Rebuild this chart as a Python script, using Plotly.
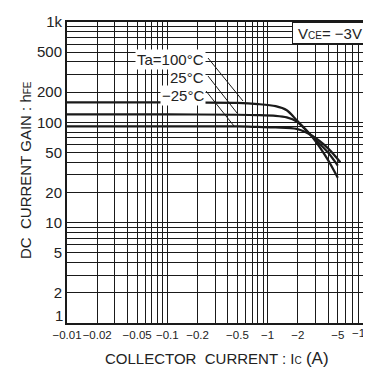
import plotly.graph_objects as go

# Collector current magnitude |Ic| (A) and DC current gain hFE (VCE = -3V)
ic_100 = [0.01, 0.1, 0.5, 0.8, 1.2, 1.55, 1.95, 2.8, 4.0, 5.0]
hfe_100 = [158, 158, 156, 152, 145, 132, 105, 71, 42, 28]

ic_25 = [0.01, 0.1, 0.5, 0.8, 1.2, 1.55, 1.95, 2.8, 4.0, 5.0]
hfe_25 = [120, 120, 119, 118, 116, 112, 102, 72, 50, 37]

ic_m25 = [0.01, 0.1, 0.5, 0.8, 1.2, 1.95, 2.8, 4.0, 5.3]
hfe_m25 = [91, 91, 91, 90, 89, 86, 73, 55, 40]

x_labels = {0.01: "−0.01", 0.02: "−0.02", 0.05: "−0.05", 0.1: "−0.1", 0.2: "−0.2",
            0.5: "−0.5", 1: "−1", 2: "−2", 5: "−5"}
x_end_label = "−10"
y_labels = {2: "2", 5: "5", 10: "10", 20: "20", 50: "50",
            100: "100", 200: "200", 500: "500", 1000: "1k"}
y_start_label = "1"

def log_grid(start_exp, n_dec):
    vals = []
    for e in range(start_exp, start_exp + n_dec):
        for m in range(1, 10):
            vals.append(round(m * 10 ** e, 6))
    vals.append(round(10 ** (start_exp + n_dec), 6))
    return vals

xt = log_grid(-2, 3)
yt = log_grid(0, 3)

def lab(d, v):
    for k, s in d.items():
        if abs(k - v) / k < 1e-6:
            return s
    return ""

fig = go.Figure()
for xs, ys in [(ic_100, hfe_100), (ic_25, hfe_25), (ic_m25, hfe_m25)]:
    fig.add_trace(go.Scatter(x=xs, y=ys, mode="lines",
                             line=dict(color="#1a1a1a", width=2.2, shape="spline", smoothing=0.8),
                             showlegend=False, hoverinfo="skip"))

FONT = "Liberation Sans, Arial, sans-serif"
fig.update_layout(
    width=371, height=361,
    margin=dict(l=59, r=11, t=14, b=46),
    paper_bgcolor="white", plot_bgcolor="white",
    font=dict(family=FONT, color="#222"),
    xaxis=dict(type="log", range=[-2, 1], tickvals=xt, ticktext=[lab(x_labels, v) for v in xt],
               showgrid=True, gridcolor="#1a1a1a", gridwidth=1, zeroline=False,
               showline=True, linecolor="#1a1a1a", linewidth=2, mirror=True, automargin=False,
               ticks="", ticklen=0, ticklabeloverflow="allow",
               tickfont=dict(size=11.5, family=FONT, color="#222"), tickangle=0),
    yaxis=dict(type="log", range=[0, 3], tickvals=yt, ticktext=[lab(y_labels, v) for v in yt],
               showgrid=True, gridcolor="#1a1a1a", gridwidth=1, zeroline=False,
               showline=True, linecolor="#1a1a1a", linewidth=2, mirror=True, automargin=False,
               ticks="", ticklen=2, ticklabeloverflow="allow",
               tickfont=dict(size=15, family=FONT, color="#222")),
)

# end tick labels, nudged inward as in the reference
fig.add_annotation(xref="paper", yref="paper", x=1, y=0, xshift=6, yshift=-10,
                   text=x_end_label, showarrow=False, xanchor="right", yanchor="middle",
                   font=dict(size=11.5, family=FONT, color="#222"))
fig.add_annotation(xref="paper", yref="paper", x=0, y=0, xshift=-2, yshift=8,
                   text=y_start_label, showarrow=False, xanchor="right", yanchor="middle",
                   font=dict(size=15, family=FONT, color="#222"))

def px(x):
    return (x - 59) / 301

def py(y):
    return (315 - y) / 301

# temperature labels
for txt, yy in [("Ta=100°C", 51), ("25°C", 69), ("−25°C", 87)]:
    fig.add_annotation(xref="paper", yref="paper", x=px(198), y=py(yy), text=txt,
                       showarrow=False, xanchor="right", yanchor="middle",
                       bgcolor="white", borderpad=1, font=dict(size=15, family=FONT, color="#222"))

for (x0, y0, x1, y1) in [(200, 50, 235, 93), (200, 68, 229, 105), (198, 83, 226, 118)]:
    fig.add_shape(type="line", xref="paper", yref="paper",
                  x0=px(x0), y0=py(y0), x1=px(x1), y1=py(y1),
                  line=dict(color="#1a1a1a", width=1))

# VCE box
fig.add_annotation(xref="paper", yref="paper", x=1, y=1, xanchor="right", yanchor="top",
                   text="V<span style='font-size:10px'>CE</span>= −3V", showarrow=False,
                   bgcolor="white", bordercolor="#1a1a1a", borderwidth=1, borderpad=1,
                   width=72, height=18, font=dict(size=15, family=FONT, color="#222"))

# axis titles
fig.add_annotation(xref="paper", yref="paper", x=px(209), y=py(350),
                   text="COLLECTOR\u00a0\u00a0CURRENT : I<span style='font-size:10px'>C</span> <span style='font-size:17px'>(A)</span>",
                   showarrow=False, xanchor="center", yanchor="middle",
                   font=dict(size=15, family=FONT, color="#222"))
fig.add_annotation(xref="paper", yref="paper", x=px(17), y=py(162), textangle=-90,
                   text="DC\u00a0\u00a0CURRENT GAIN : h<span style='font-size:10px'>FE</span>",
                   showarrow=False, xanchor="center", yanchor="middle",
                   font=dict(size=15, family=FONT, color="#222"))

fig.write_html("out.html")
